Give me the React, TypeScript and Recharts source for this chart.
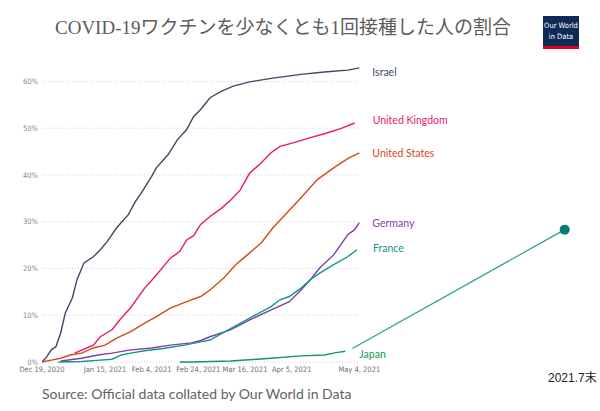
import React from 'react';
import { LineChart, Line, XAxis, YAxis, ReferenceLine, ReferenceDot } from 'recharts';

// days since Dec 19, 2020 -> share (%) with at least one dose
const israel: [number, number][] = [[0,0],[2,1.1],[4,2.6],[6,3.3],[8,6.2],[10,10.5],[13,13.7],[15,17.6],[18,21.2],[22,22.5],[25,24],[28,25.8],[32,28.7],[37,31.5],[40,34.3],[43,36.5],[47,39.7],[49,41.5],[54,44.3],[58,47.5],[62,49.7],[65,52.5],[68,54],[72,56.5],[77,57.9],[82,59],[89,59.9],[99,60.7],[111,61.5],[121,62],[131,62.4],[136,62.9]];
const unitedKingdom: [number, number][] = [[14,1.9],[22,3.6],[25,5.4],[30,6.9],[34,9.4],[38,11.6],[41,13.7],[44,15.8],[48,18],[52,20.4],[55,22.2],[59,23.6],[62,26.1],[65,27],[68,29.4],[72,31.1],[77,32.9],[81,34.7],[85,36.8],[89,40.4],[94,42.6],[98,44.7],[102,46.1],[108,46.9],[114,47.8],[121,48.8],[128,49.9],[134,51.1]];
const unitedStates: [number, number][] = [[0,0],[4,0.4],[8,0.8],[12,1.5],[17,1.9],[22,3],[27,3.6],[32,5.1],[38,6.5],[44,8.3],[49,9.7],[55,11.5],[62,12.9],[68,14],[72,15.4],[78,18],[83,20.8],[88,22.9],[94,25.5],[99,28.7],[105,31.9],[111,35.1],[118,39],[125,41.5],[131,43.5],[136,44.7]];
const germany: [number, number][] = [[8,0.2],[17,0.8],[24,1.5],[30,1.9],[38,2.6],[47,3],[55,3.6],[64,4.1],[68,4.6],[72,5.4],[81,6.9],[89,9],[98,11.1],[106,12.9],[111,15.4],[115,17.6],[119,20.1],[125,22.9],[131,27.2],[134,28.3],[136,29.8]];
const france: [number, number][] = [[7,0],[17,0.1],[25,0.4],[30,0.6],[34,1.5],[38,1.9],[44,2.4],[52,2.9],[61,3.6],[68,4.3],[72,4.7],[81,7.2],[89,9.4],[98,11.8],[102,13.3],[106,14],[111,15.8],[115,17.6],[119,19],[125,20.8],[131,22.5],[135,24]];
const japan: [number, number][] = [[59,0],[64,0],[81,0.2],[98,0.8],[111,1.3],[121,1.5],[126,2],[130,2.3]];
const japanProjection: [number, number][] = [[133,2.9],[224,28.3]];

const xTickDays = [0, 27, 47, 67, 87, 107, 136];
const xTickLabels = ['Dec 19, 2020', 'Jan 15, 2021', 'Feb 4, 2021', 'Feb 24, 2021', 'Mar 16, 2021', 'Apr 5, 2021', 'May 4, 2021'];
const yTicks = [0, 10, 20, 30, 40, 50, 60];
const lastDay = 136;

const toRows = (arr: [number, number][]) => arr.map(([day, v]) => ({ day, v }));

type S = { name: string; data: [number, number][]; color: string; dx: number; dy: number };
const series: S[] = [
  { name: 'Israel', data: israel, color: '#3b4a63', dx: 13, dy: 4 },
  { name: 'United Kingdom', data: unitedKingdom, color: '#e8196f', dx: 18, dy: -3 },
  { name: 'United States', data: unitedStates, color: '#d44a16', dx: 13, dy: 0 },
  { name: 'Germany', data: germany, color: '#833fa0', dx: 13, dy: 0 },
  { name: 'France', data: france, color: '#12968b', dx: 16, dy: -2 },
  { name: 'Japan', data: japan, color: '#15985a', dx: 14, dy: 3 },
];

const endLabel = (s: S) => (props: any) => {
  const { x, y, index } = props;
  if (index !== s.data.length - 1) return <g key={`l${index}`} />;
  return (
    <text key={`l${index}`} x={x + s.dx} y={y + s.dy} fill={s.color} fontSize={10.5}
      fontFamily="Lato, 'Open Sans', sans-serif" dominantBaseline="central">{s.name}</text>
  );
};

export default function App() {
  return (
    <div style={{ position: 'absolute', left: 0, top: 0, width: 600, height: 411, background: '#fff' }}>
      <LineChart width={600} height={411} margin={{ top: 58, right: 26, bottom: 29, left: 0 }}>
        <XAxis type="number" dataKey="day" domain={[0, 228]} ticks={xTickDays} allowDataOverflow
          tickFormatter={(d: number) => xTickLabels[xTickDays.indexOf(d)] ?? ''}
          axisLine={false} tickLine={false} tickSize={0} tickMargin={5} height={20} interval={0}
          tick={{ fontSize: 7.5, fill: '#6f6f6f', fontFamily: "'DejaVu Sans Condensed', 'Liberation Sans Narrow', sans-serif" }} />
        <YAxis type="number" domain={[0, 65]} ticks={yTicks} width={42}
          tickFormatter={(v: number) => `${v}%`} axisLine={false} tickLine={false} tickSize={0} tickMargin={4}
          tick={{ fontSize: 7.5, fill: '#8a8a8a', fontFamily: "'DejaVu Sans Condensed', sans-serif" }} />
        {yTicks.map((t) => (
          <ReferenceLine key={t} segment={[{ x: 0, y: t }, { x: lastDay, y: t }]} stroke="#cfcfcf" strokeDasharray="1 2" />
        ))}
        {series.map((s) => (
          <Line key={s.name} data={toRows(s.data)} dataKey="v" type="linear" stroke={s.color} strokeWidth={1.4}
            dot={false} isAnimationActive={false} label={endLabel(s)} />
        ))}
        <Line data={toRows(japanProjection)} dataKey="v" type="linear" stroke="#2a9d93" strokeWidth={1.2}
          dot={false} isAnimationActive={false} />
        <ReferenceDot x={japanProjection[1][0]} y={japanProjection[1][1]} r={5} fill="#0b7b73" stroke="none" />
      </LineChart>
      <svg width={600} height={411} style={{ position: 'absolute', left: 0, top: 0, pointerEvents: 'none' }}>
        <text x={283} y={34} textAnchor="middle" fontSize={19} fill="#5c5c5c"
          fontFamily="'Liberation Serif', 'DejaVu Serif', 'Noto Sans CJK JP', serif">COVID-19ワクチンを少なくとも1回接種した人の割合</text>
        <rect x={543} y={16} width={36} height={33} fill="#0f2a55" />
        <rect x={543} y={46} width={36} height={3} fill="#e3001b" />
        <text x={561} y={28} textAnchor="middle" fontSize={7.5} fill="#fff" fontFamily="'Liberation Sans Narrow', 'DejaVu Sans Condensed', sans-serif">Our World</text>
        <text x={561} y={39} textAnchor="middle" fontSize={7.5} fill="#fff" fontFamily="'Liberation Sans Narrow', 'DejaVu Sans Condensed', sans-serif">in Data</text>
        <text x={42} y={399} fontSize={14} fill="#5e6368" fontFamily="Lato, 'Open Sans', sans-serif">Source: Official data collated by Our World in Data</text>
        <text x={548} y={382} fontSize={12} fill="#222" fontFamily="'Liberation Sans', Arial, 'Noto Sans CJK JP', sans-serif">2021.7末</text>
      </svg>
    </div>
  );
}
